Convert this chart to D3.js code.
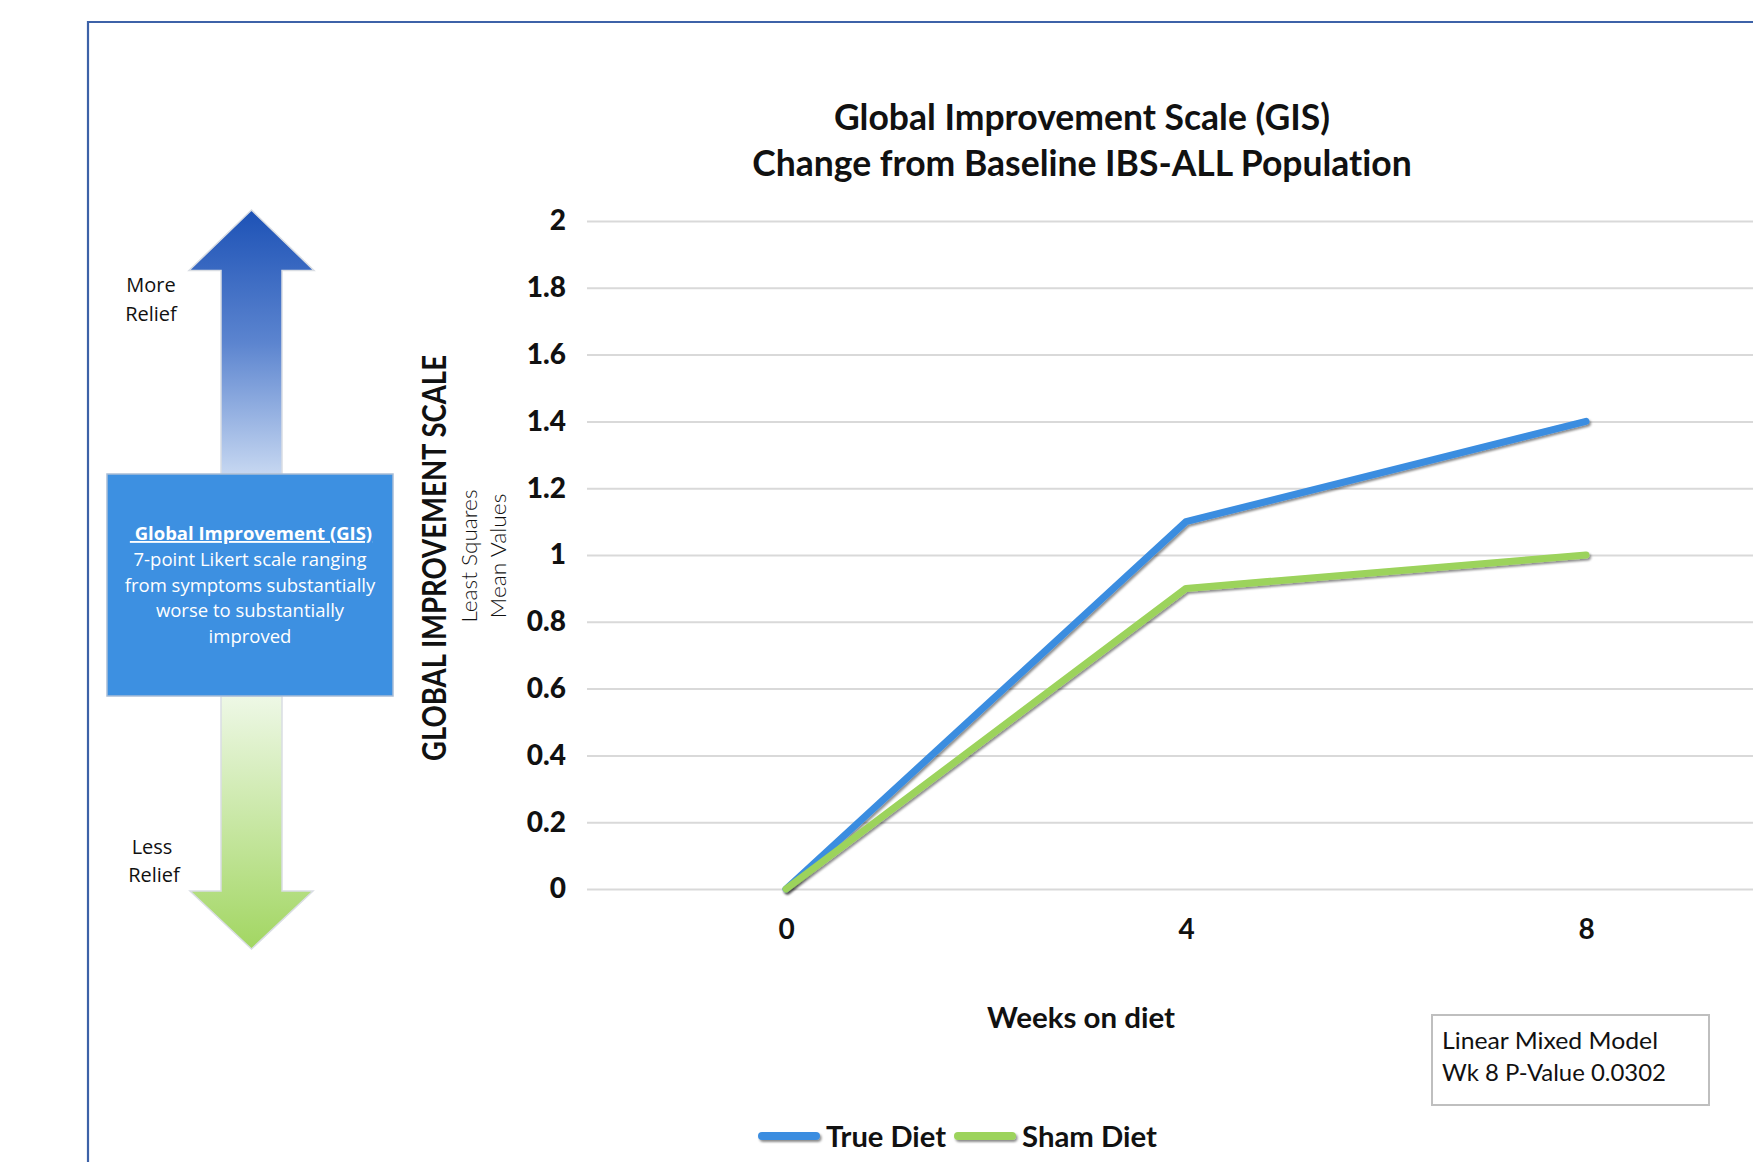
<!DOCTYPE html>
<html><head><meta charset="utf-8">
<script src="https://cdn.jsdelivr.net/npm/d3@7"></script>
<style>
html,body{margin:0;padding:0;background:#fff;}
svg{display:block;}
text{font-variant-ligatures:none;}
</style></head>
<body>
<svg id="chart" width="1753" height="1162"></svg>
<script>
// ---- data ----
const weeks = ["0", "4", "8"];
const trueDiet = [0, 1.1, 1.4];
const shamDiet = [0, 0.9, 1.0];
const yTicks = [0, 0.2, 0.4, 0.6, 0.8, 1, 1.2, 1.4, 1.6, 1.8, 2];
const seriesNames = ["True Diet", "Sham Diet"];
const seriesColors = ["#3b8de0", "#9cd35b"];
const titleLines = ["Global Improvement Scale (GIS)", "Change from Baseline IBS-ALL Population"];
const boxLines = ["7-point Likert scale ranging", "from symptoms substantially", "worse to substantially", "improved"];
const noteLines = ["Linear Mixed Model", "Wk 8 P-Value 0.0302"];

const W = 1753, H = 1162;
const svg = d3.select("#chart");
svg.append("rect").attr("width", W).attr("height", H).attr("fill", "#fff");

const defs = svg.append("defs");
const sh = defs.append("filter").attr("id", "shadow").attr("filterUnits", "userSpaceOnUse")
  .attr("x", -2 * W).attr("y", -2 * H).attr("width", 4 * W).attr("height", 4 * H);
sh.append("feDropShadow").attr("dx", 1.5).attr("dy", 2).attr("stdDeviation", 1.2).attr("flood-color", "#000").attr("flood-opacity", 0.45);

const gUp = defs.append("linearGradient").attr("id", "gup").attr("x1", 0).attr("y1", 0).attr("x2", 0).attr("y2", 1);
gUp.append("stop").attr("offset", "0%").attr("stop-color", "#1d52b6");
gUp.append("stop").attr("offset", "50%").attr("stop-color", "#5b84cf");
gUp.append("stop").attr("offset", "100%").attr("stop-color", "#c6d7f1");
const gDn = defs.append("linearGradient").attr("id", "gdn").attr("x1", 0).attr("y1", 0).attr("x2", 0).attr("y2", 1);
gDn.append("stop").attr("offset", "0%").attr("stop-color", "#eef8e6");
gDn.append("stop").attr("offset", "100%").attr("stop-color", "#a2d662");

// outer border
svg.append("path").attr("d", `M88,${H + 5} L88,22 L${W + 5},22`).attr("fill", "none").attr("stroke", "#3d62a8").attr("stroke-width", 2.2);

// ---- left panel graphic ----
svg.append("path")
  .attr("d", "M251.5,210 L314,270.5 L282,270.5 L282,474 L221,474 L221,270.5 L189,270.5 Z")
  .attr("fill", "url(#gup)").attr("stroke", "#d9dde3").attr("stroke-width", 1.5);
svg.append("path")
  .attr("d", "M221,696 L282,696 L282,891 L313,891 L251.5,949 L190,891 L221,891 Z")
  .attr("fill", "url(#gdn)").attr("stroke", "#d9dde3").attr("stroke-width", 1.5);
svg.append("rect").attr("x", 107).attr("y", 474).attr("width", 286).attr("height", 222)
  .attr("fill", "#3d90e1").attr("stroke", "#a9bdd6").attr("stroke-width", 1.5);

const boxText = svg.append("g").attr("font-family", "'Open Sans', sans-serif").attr("fill", "#fff").attr("text-anchor", "middle");
boxText.append("text").attr("x", 251).attr("y", 540).attr("font-size", 18.5).attr("font-weight", 700)
  .attr("text-decoration", "underline").text("\u00A0Global Improvement (GIS)");
boxLines.forEach((t, i) => {
  boxText.append("text").attr("x", 250).attr("y", 566 + i * 25.7).attr("font-size", 18.5).text(t);
});

const sideText = svg.append("g").attr("font-family", "'Open Sans', sans-serif").attr("fill", "#111").attr("font-size", 20).attr("text-anchor", "middle");
sideText.append("text").attr("x", 151).attr("y", 292).text("More");
sideText.append("text").attr("x", 151).attr("y", 321).text("Relief");
sideText.append("text").attr("x", 152).attr("y", 854).text("Less");
sideText.append("text").attr("x", 154).attr("y", 882).text("Relief");

// ---- chart ----
const x = d3.scalePoint().domain(weeks).range([586, 1786]).padding(0.5);
const y = d3.scaleLinear().domain([0, 2]).range([889, 221]);

// gridlines
const grid = svg.append("g").attr("transform", "translate(587,0)")
  .call(d3.axisLeft(y).tickValues(yTicks).tickSize(-(W - 587 + 40)).tickFormat(""));
grid.select(".domain").remove();
grid.selectAll(".tick line").attr("stroke", "#d9d9d9").attr("stroke-width", 2);

// y tick labels
const yAx = svg.append("g").attr("transform", "translate(587,0)")
  .call(d3.axisLeft(y).tickValues(yTicks).tickSize(0).tickPadding(21).tickFormat(d3.format("")));
yAx.select(".domain").remove();
yAx.selectAll("text").attr("font-family", "Lato, sans-serif").attr("font-weight", 900).attr("font-size", 28).attr("fill", "#111");

// x tick labels
const xAx = svg.append("g").attr("transform", "translate(0,889)")
  .call(d3.axisBottom(x).tickSize(0).tickPadding(30));
xAx.select(".domain").remove();
xAx.selectAll("text").attr("font-family", "Lato, sans-serif").attr("font-weight", 700).attr("font-size", 28).attr("fill", "#111");

// lines
const line = d3.line().x((d, i) => x(weeks[i])).y(d => y(d));
[trueDiet, shamDiet].forEach((s, k) => {
  svg.append("path").datum(s).attr("d", line).attr("fill", "none")
    .attr("stroke", seriesColors[k]).attr("stroke-width", 7).attr("stroke-linecap", "round").attr("stroke-linejoin", "round")
    .attr("filter", "url(#shadow)");
});

// title
titleLines.forEach((t, i) => {
  svg.append("text").attr("x", 1082).attr("y", 130 + i * 46).attr("text-anchor", "middle")
    .attr("font-family", "Lato, sans-serif").attr("font-weight", 700).attr("font-size", 35.5).attr("fill", "#111").text(t);
});

// axis titles
svg.append("text").attr("x", 1081).attr("y", 1028).attr("text-anchor", "middle")
  .attr("font-family", "Lato, sans-serif").attr("font-weight", 700).attr("font-size", 29).attr("fill", "#111")
  .attr("textLength", 188).attr("lengthAdjust", "spacingAndGlyphs").text("Weeks on diet");

svg.append("text").attr("transform", "translate(446,558) rotate(-90)").attr("text-anchor", "middle")
  .attr("font-family", "Lato, sans-serif").attr("font-weight", 700).attr("font-size", 33).attr("fill", "#111")
  .attr("textLength", 406).attr("lengthAdjust", "spacingAndGlyphs").text("GLOBAL IMPROVEMENT SCALE");
svg.append("text").attr("transform", "translate(477,556) rotate(-90)").attr("text-anchor", "middle")
  .attr("font-family", "Lato, sans-serif").attr("font-weight", 300).attr("font-size", 22).attr("fill", "#111")
  .attr("textLength", 133).attr("lengthAdjust", "spacingAndGlyphs").text("Least Squares");
svg.append("text").attr("transform", "translate(506,556) rotate(-90)").attr("text-anchor", "middle")
  .attr("font-family", "Lato, sans-serif").attr("font-weight", 300).attr("font-size", 22).attr("fill", "#111")
  .attr("textLength", 125).attr("lengthAdjust", "spacingAndGlyphs").text("Mean Values");

// note box
svg.append("rect").attr("x", 1432).attr("y", 1015).attr("width", 277).attr("height", 90)
  .attr("fill", "#fff").attr("stroke", "#bfbfbf").attr("stroke-width", 2);
noteLines.forEach((t, i) => {
  svg.append("text").attr("x", 1442).attr("y", 1049 + i * 32)
    .attr("font-family", "Lato, sans-serif").attr("font-size", 24).attr("fill", "#111")
    .attr("textLength", i === 0 ? 216 : 224).attr("lengthAdjust", "spacingAndGlyphs").text(t);
});

// legend
const legX = [762, 958];
const legTextLen = [120, 135];
seriesNames.forEach((n, k) => {
  const g = svg.append("g").attr("transform", `translate(${legX[k]},1136)`);
  g.append("line").attr("x1", 0).attr("x2", 54).attr("y1", 0).attr("y2", 0)
    .attr("stroke", seriesColors[k]).attr("stroke-width", 8).attr("stroke-linecap", "round").attr("filter", "url(#shadow)");
  g.append("text").attr("x", 64).attr("y", 11)
    .attr("font-family", "Lato, sans-serif").attr("font-weight", 700).attr("font-size", 29).attr("fill", "#111")
    .attr("textLength", legTextLen[k]).attr("lengthAdjust", "spacingAndGlyphs").text(n);
});
</script>
</body></html>
